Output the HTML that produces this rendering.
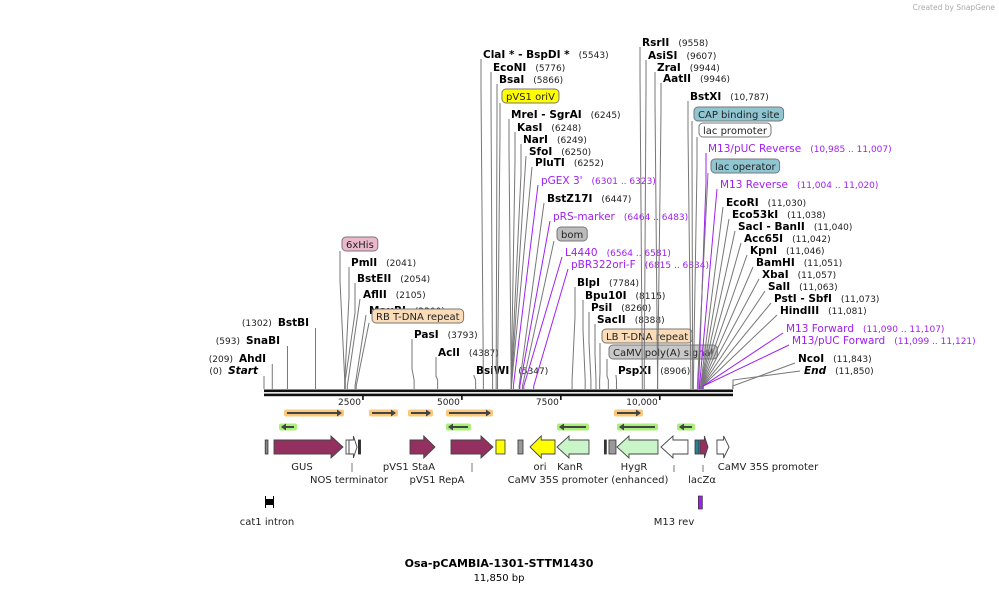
<!DOCTYPE html>
<html><head><meta charset="utf-8">
<style>
html,body{margin:0;padding:0;background:#fff;}
svg{display:block;font-family:"DejaVu Sans","Liberation Sans",sans-serif;}
.en{font-weight:bold;font-size:10.5px;fill:#000;}
.num{font-size:9px;fill:#222;}
.pr{font-size:10.5px;fill:#a020f0;}
.prn{font-size:9px;fill:#a020f0;}
.fl{font-size:10px;fill:#222;}
</style></head>
<body>
<svg id="map" width="999" height="592" viewBox="0 0 999 592">
<text x="995" y="10" text-anchor="end" font-size="7.5" fill="#aaa">Created by SnapGene</text>
<text x="499" y="567" text-anchor="middle" font-weight="bold" font-size="11">Osa-pCAMBIA-1301-STTM1430</text>
<text x="499" y="581" text-anchor="middle" font-size="10">11,850 bp</text>
</svg>
<script>
// ---- data ----
const seqLength = 11850;
const tickValues = [2500, 5000, 7500, 10000];
const tickLabels = ["2500", "5000", "7500", "10,000"];
const siteNames = ["Start","AhdI","SnaBI","BstBI","6xHis","PmlI","BstEII","AflII","MauBI","RB T-DNA repeat","PasI","AclI","BsiWI",
 "ClaI * - BspDI *","EcoNI","BsaI","pVS1 oriV","MreI  - SgrAI","KasI","NarI","SfoI","PluTI","pGEX 3'","BstZ17I","pRS-marker","bom","L4440","pBR322ori-F","BlpI","Bpu10I","PsiI","SacII","LB T-DNA repeat","CaMV poly(A) signal","PspXI",
 "RsrII","AsiSI","ZraI","AatII","BstXI","CAP binding site","lac promoter","M13/pUC Reverse","lac operator","M13 Reverse","EcoRI","Eco53kI","SacI - BanII","Acc65I","KpnI","BamHI","XbaI","SalI","PstI - SbfI","HindIII","M13 Forward","M13/pUC Forward","NcoI","End"];
const sitePositions = [0,209,593,1302,2040,2041,2054,2105,2300,2330,3793,4387,5347,
 5543,5776,5866,5900,6245,6248,6249,6250,6252,6301,6447,6464,6530,6564,6815,7784,8115,8260,8388,8480,8700,8906,
 9558,9607,9944,9946,10787,10830,10850,10985,10950,11004,11030,11038,11040,11042,11046,11051,11057,11063,11073,11081,11090,11099,11843,11850];
const siteKinds = ["L","L","L","L","b:#ebb7cb","e","e","e","e","b:#fbdcb8","e","e","e",
 "e","e","e","b:#ffff00","e","e","e","e","e","p","e","p","b:#bcbcbc","p","p","e","e","e","e","b:#fbdcb8","b:#c8c8c8","e",
 "e","e","e","e","e","b:#8fc6d2","b:#ffffff","p","b:#8fc6d2","p","e","e","e","e","e","e","e","e","e","e","p","p","e","E"];
const siteNumbers = ["(0)","(209)","(593)","(1302)","","(2041)","(2054)","(2105)","(2300)","","(3793)","(4387)","(5347)",
 "(5543)","(5776)","(5866)","","(6245)","(6248)","(6249)","(6250)","(6252)","(6301 .. 6323)","(6447)","(6464 .. 6483)","","(6564 .. 6581)","(6815 .. 6834)","(7784)","(8115)","(8260)","(8388)","","","(8906)",
 "(9558)","(9607)","(9944)","(9946)","(10,787)","","","(10,985 .. 11,007)","","(11,004 .. 11,020)","(11,030)","(11,038)","(11,040)","(11,042)","(11,046)","(11,051)","(11,057)","(11,063)","(11,073)","(11,081)","(11,090 .. 11,107)","(11,099 .. 11,121)","(11,843)","(11,850)"];
// features: start, end (bp), direction, color
const featStart = [30,253,2072,2148,2385,3689,4725,5861,6417,6721,7403,8600,8716,8919,10030,10890,11016,11445];
const featEnd   = [100,1996,2148,2350,2440,4320,5786,6089,6544,7352,8211,8640,8893,9954,10712,10990,11218,11750];
const featDir   = [0,1,0,1,0,1,1,0,0,-1,-1,0,0,-1,-1,0,1,1];
const featColor = ["#888","#933060","#fff","#fff","#333","#933060","#933060","#ffff00","#999","#ffff00","#c9f5c9","#333","#999","#c9f5c9","#fff","#2a7f95","#933060","#fff"];
const featNames = ["cat1-tick","GUS","nos-box","NOS terminator","nos-line","pVS1 StaA","pVS1 RepA","pVS1 oriV","bom","ori","KanR","lb-line","LB box","HygR","CaMV 35S promoter (enhanced)","lac-box","lacZa","CaMV 35S promoter"];
// primer arrows: start, end, dir
const primStart = [530,2678,3663,4624,8868, 404,4624,7428,8944,10460];
const primEnd   = [1996,3360,4245,5760,9550, 808,5205,8186,9929,10864];
const primDir   = [1,1,1,1,1,-1,-1,-1,-1,-1];
// ---- layout ----
const X0=264, X1=733;
const sx = v => X0 + v/seqLength*(X1-X0);
const svg=document.getElementById('map');
const NS="http://www.w3.org/2000/svg";
function mk(tag,attrs,parent){const e=document.createElementNS(NS,tag);for(const k in attrs)e.setAttribute(k,attrs[k]);(parent||svg).appendChild(e);return e;}
const labelXY = [[258,370],[266,358],[280,340],[309,322],[342,244],[351,262],[357,278],[363,294],[369,310],[372,316],[414,334],[438,352],[476,370],
 [483,54],[493,67],[499,79],[502,96],[511,114],[517,127],[523,139],[529,151],[535,162],[541,180],[547,198],[553,216],[557,234],[565,252],[571,264],[577,282],[585,295],[591,307],[597,319],[602,336],[609,352],[618,370],
 [642,42],[648,55],[657,67],[663,78],[690,96],[694,114],[699,130],[708,148],[711,166],[720,184],[726,202],[732,214],[738,226],[744,238],[750,250],[756,262],[762,274],[768,286],[774,298],[780,310],[786,328],[792,340],[798,358],[804,370]];
// backbone
const bb=mk('g',{});


mk('rect',{x:X0,y:389.5,width:X1-X0,height:2.6,fill:'#111'},bb);
mk('rect',{x:X0,y:393.6,width:X1-X0,height:2.6,fill:'#111'},bb);
tickValues.forEach((t,i)=>{
  const x=sx(t);
  const l=mk('line',{x1:x,y1:396,x2:x,y2:400,stroke:'#000','stroke-width':1.5});
  
  
  const tx=mk('text',{x:x-2,y:405,'text-anchor':'end','font-size':9,fill:'#222'});
  tx.textContent=tickLabels[i];
  
  
});
// site lines and labels
siteNames.forEach((n,i)=>{
  const x=sx(sitePositions[i]);
  const [lx,ly]=labelXY[i];
  const kind=siteKinds[i];
  const col = kind==='p' ? '#a020f0' : '#777';
  const g=mk('g',{});
  
  
  const isBox=kind.startsWith('b');
  const ly0 = isBox? ly+7 : ly+5;
  let pts;
  if (kind==='L') pts=`${x},389 ${x},${ly+6}`;
  else if (kind==='E') pts=`${x},389 ${x},380 ${lx-4},${ly+1}`;
  else if (lx-x>12) pts=`${x},389 ${x},386 ${lx-3},${ly0}`;
  else pts=`${x},389 ${x},380 ${lx-2},${Math.min(376,ly0+30)} ${lx-2},${ly0}`;
  mk('polyline',{points:pts,fill:'none',stroke:col,'stroke-width':1},g);
  if(isBox){
    const fill=kind.split(':')[1];
    const r=mk('rect',{x:lx,y:ly-7,width:10,height:14,rx:4,fill:fill,stroke:'#777','stroke-width':1},g);
    const t=mk('text',{x:lx+4,y:ly+4,class:'fl'},g);t.textContent=n;
    r.setAttribute('width',t.getComputedTextLength()+8);
  } else if(kind==='L'){
    const t=mk('text',{x:lx,y:ly+4,class:'en','text-anchor':'end','font-style':n==='Start'?'italic':'normal'},g);
    t.textContent=n;
    const w=t.getComputedTextLength();
    const nt=mk('text',{x:lx-w-6,y:ly+4,class:'num','text-anchor':'end'},g);
    nt.textContent=siteNumbers[i];
  } else {
    const cls = kind==='p'?'pr':'en';
    const t=mk('text',{x:lx,y:ly+4,class:cls,'font-style':kind==='E'?'italic':'normal'},g);
    t.textContent=n;
    const w=t.getComputedTextLength();
    if(siteNumbers[i]){
      const nt=mk('text',{x:lx+w+9,y:ly+4,class:kind==='p'?'prn':'num'},g);
      nt.textContent=siteNumbers[i];
    }
  }
});
// primer arrows
primStart.forEach((s,i)=>{
  const a=sx(s), b=sx(primEnd[i]), d=primDir[i];
  const y = d>0?413:427;
  const g=mk('g',{});
  
  
  const glow = d>0?'#f9c87a':'#a8f07a';
  mk('rect',{x:a-1,y:y-3.5,width:b-a+2,height:7,fill:glow,rx:2},g);
  mk('line',{x1:a+2,y1:y,x2:b-2,y2:y,stroke:'#444','stroke-width':2},g);
  const tip = d>0?b-1:a+1;
  mk('polygon',{points:`${tip},${y} ${tip-5*d},${y-3.5} ${tip-5*d},${y+3.5}`,fill:'#444'},g);
});
// features
featStart.forEach((s,i)=>{
  const a=sx(s), b=sx(featEnd[i]), d=featDir[i], c=featColor[i];
  const g=mk('g',{});
  
  
  const yc=447, h=7, H=11;
  if(d===0){
    mk('rect',{x:a,y:yc-h,width:Math.max(b-a,2),height:2*h,fill:c,stroke:'#333','stroke-width':0.8},g);
  } else {
    const head=Math.min(12,(b-a)*0.45);
    let pts;
    if(d>0) pts=`${a},${yc-h} ${b-head},${yc-h} ${b-head},${yc-H} ${b},${yc} ${b-head},${yc+H} ${b-head},${yc+h} ${a},${yc+h}`;
    else pts=`${b},${yc-h} ${a+head},${yc-h} ${a+head},${yc-H} ${a},${yc} ${a+head},${yc+H} ${a+head},${yc+h} ${b},${yc+h}`;
    mk('polygon',{points:pts,fill:c,stroke:'#444','stroke-width':0.9},g);
  }
});
const fLabels=[["GUS",302,470],["NOS terminator",349,483],["pVS1 StaA",409,470],["pVS1 RepA",437,483],["ori",540,470],["KanR",570,470],["CaMV 35S promoter (enhanced)",588,483],["HygR",634,470],["lacZα",702,483],["CaMV 35S promoter",768,470],["cat1 intron",267,525],["M13 rev",674,525]];
fLabels.forEach(([t,x,y])=>{
  const e=mk('text',{x:x,y:y,'text-anchor':'middle',class:'fl'});
  e.textContent=t;
  
  
});
[[352,463,472],[472,463,472],[674,465,472],[703,465,472]].forEach(([x,a,b])=>{
  const l=mk('line',{x1:x,y1:a,x2:x,y2:b,stroke:'#777','stroke-width':1});
  
  
});
const ci=mk('g',{});
mk('rect',{x:265,y:499,width:8,height:6,fill:'#000'},ci);
mk('line',{x1:265.5,y1:496,x2:265.5,y2:508,stroke:'#000'},ci);
mk('line',{x1:273.5,y1:496,x2:273.5,y2:508,stroke:'#000'},ci);
const m13=mk('rect',{x:sx(11000)-1,y:496,width:4,height:13,fill:'#a020f0',stroke:'#333','stroke-width':0.7});


</script>
</body></html>
